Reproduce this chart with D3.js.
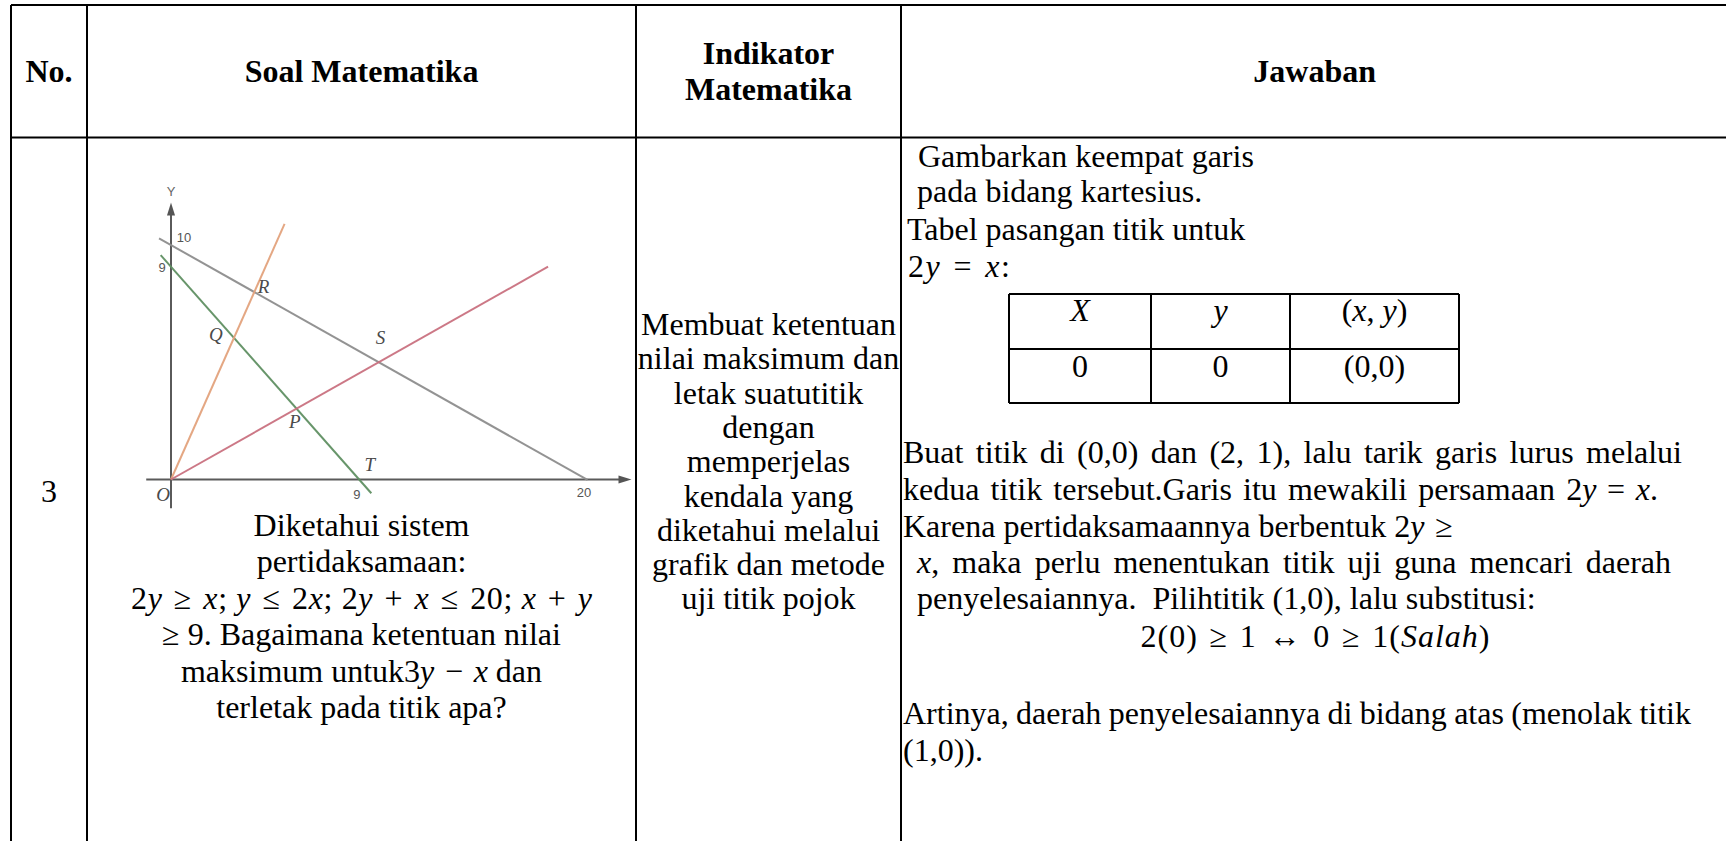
<!DOCTYPE html>
<html><head><meta charset="utf-8">
<script src="https://cdn.jsdelivr.net/npm/d3@7"></script>
<style>html,body{margin:0;padding:0;background:#fff;overflow:hidden}
text{white-space:pre}</style>
</head><body><svg id="c" width="1726" height="841"></svg>
<script>
// ---------- data ----------
const S = "\u2004"; // math operator spacing
const headers = ["No.", "Soal Matematika", "Indikator|Matematika", "Jawaban"];
const rowNumber = "3";
const soalLines = [
  "Diketahui sistem",
  "pertidaksamaan:",
  `2{y}${S}≥${S}{x}; {y}${S}≤${S}2{x}; 2{y}${S}+${S}{x}${S}≤${S}20; {x}${S}+${S}{y}`,
  "≥ 9. Bagaimana ketentuan nilai",
  `maksimum untuk3{y}${S}−${S}{x} dan`,
  "terletak pada titik apa?"
];
const indikatorLines = [
  "Membuat ketentuan", "nilai maksimum dan", "letak suatutitik", "dengan",
  "memperjelas", "kendala yang", "diketahui melalui", "grafik dan metode", "uji titik pojok"
];
const jawabanIntro = ["Gambarkan keempat garis", "pada bidang kartesius.", "Tabel pasangan titik untuk", `2{y}${S}=${S}{x}:`];
const pairHeader = ["{X}", "{y}", "({x},\u00A0{y})"];
const pairRow = ["0", "0", "(0,0)"];
const jawabanBody = [
  "Buat titik di (0,0) dan (2, 1), lalu tarik garis lurus melalui",
  `kedua titik tersebut.Garis itu mewakili persamaan 2{y}${S}=${S}{x}.`,
  `Karena pertidaksamaannya berbentuk 2{y}${S}≥`,
  "{x}, maka perlu menentukan titik uji guna mencari daerah",
  "penyelesaiannya.  Pilihtitik (1,0), lalu substitusi:",
  `2(0)${S}≥${S}1${S}↔${S}0${S}≥${S}1({Salah})`,
  "Artinya, daerah penyelesaiannya di bidang atas (menolak titik",
  "(1,0))."
];
// graph: line segments (data units)
const graphNames = ["2y + x = 20", "x + y = 9", "y = 2x", "2y = x"];
const graphStart = [[-0.58, 10.36], [-0.5, 9.64], [0, 0], [0, 0]];
const graphEnd = [[20.17, -0.02], [9.7, -0.59], [5.5, 10.98], [18.26, 9.14]];
const pointNames = ["R", "Q", "S", "P", "T", "O"];
const pointX = [4, 3, 10, 6, 9, 0];
const pointY = [8, 6, 5, 3, 0, 0];
const yTickValues = [10, 9];
const xTickValues = [9, 20];

// ---------- styles / layout ----------
const FONT = "'Liberation Serif','Times New Roman',serif";
const FS = 32;
const lineColors = ["#8d8d8d", "#5f8f62", "#e3a27c", "#c9717f"];
const svg = d3.select("#c");

function rich(t, str) {
  const parts = str.split(/(\{[^}]*\})/).filter(s => s.length);
  parts.forEach(p => {
    if (p[0] === "{") t.append("tspan").attr("font-style", "italic").text(p.slice(1, -1));
    else t.append("tspan").text(p);
  });
  return t;
}
function txt(x, y, str, opts = {}) {
  const t = svg.append("text").attr("x", x).attr("y", y)
    .attr("font-family", FONT).attr("font-size", opts.size || FS)
    .attr("font-weight", opts.bold ? "bold" : "normal")
    .attr("text-anchor", opts.anchor || "start").attr("fill", "#000");
  if (opts.len) t.attr("textLength", opts.len).attr("lengthAdjust", "spacing");
  return rich(t, str);
}
function justify(x0, x1, y, str) {
  const words = str.split(" ");
  const els = words.map(w => txt(0, y, w));
  const ws = els.map(e => e.node().getComputedTextLength());
  const total = ws.reduce((a, b) => a + b, 0);
  const gap = (x1 - x0 - total) / (words.length - 1);
  let cx = x0;
  els.forEach((e, i) => { e.attr("x", cx); cx += ws[i] + gap; });
}

// ---------- table grid ----------
const L = 11, C1 = 87, C2 = 636, C3 = 901, R = 1728, T = 5, H = 137.5, B = 841;
const grid = svg.append("g").attr("stroke", "#000").attr("stroke-width", 2);
[[L, T, R, T], [L, H, R, H], [L, T, L, B], [C1, T, C1, B], [C2, T, C2, B], [C3, T, C3, B]]
  .forEach(d => grid.append("line").attr("x1", d[0]).attr("y1", d[1]).attr("x2", d[2]).attr("y2", d[3]));

// headers
txt((L + C1) / 2, 82, headers[0], {bold: true, anchor: "middle"});
txt((C1 + C2) / 2, 82, headers[1], {bold: true, anchor: "middle"});
headers[2].split("|").forEach((h, i) => txt((C2 + C3) / 2, 64 + i * 35.6, h, {bold: true, anchor: "middle"}));
txt(1314.7, 82, headers[3], {bold: true, anchor: "middle"});

// No.
txt((L + C1) / 2, 502, rowNumber, {anchor: "middle"});

// ---------- graph ----------
const xS = d3.scaleLinear().domain([0, 20]).range([171, 584]);
const yS = d3.scaleLinear().domain([0, 10]).range([479.5, 246.7]);
svg.append("clipPath").attr("id", "gclip").append("rect")
  .attr("x", 140).attr("y", 180).attr("width", C2 - 1 - 140).attr("height", 335);
const g = svg.append("g").attr("clip-path", "url(#gclip)");
const ln = d3.line().x(d => xS(d[0])).y(d => yS(d[1]));
// axes
g.append("path").attr("d", ln([[-1.2, 0], [21.9, 0]])).attr("stroke", "#5a5a5a").attr("stroke-width", 2).attr("fill", "none");
g.append("path").attr("d", ln([[0, -1.24], [0, 11.5]])).attr("stroke", "#5a5a5a").attr("stroke-width", 2).attr("fill", "none");
const ax = xS(22.3), ay = yS(0);
g.append("path").attr("d", `M${ax},${ay} l-13,-4 l0,8 z`).attr("fill", "#555");
const tx = xS(0), ty = yS(11.9);
g.append("path").attr("d", `M${tx},${ty} l-4,13 l8,0 z`).attr("fill", "#555");
const sans = "'Liberation Sans',Arial,sans-serif";
g.append("text").attr("x", tx).attr("y", ty - 6).attr("text-anchor", "middle")
  .attr("font-family", sans).attr("font-size", 13).attr("fill", "#666").text("Y");
g.append("text").attr("x", ax + 8).attr("y", ay + 5).attr("text-anchor", "start")
  .attr("font-family", sans).attr("font-size", 13).attr("fill", "#666").text("X");
// lines
graphNames.forEach((n, i) => {
  g.append("path").attr("d", ln([graphStart[i], graphEnd[i]]))
    .attr("stroke", lineColors[i]).attr("stroke-width", 2).attr("fill", "none").attr("opacity", 0.95);
});
// tick labels
const yOff = [[13, -5], [-9, 2]];
yTickValues.forEach((v, i) => g.append("text").attr("x", xS(0) + yOff[i][0]).attr("y", yS(v) + yOff[i][1])
  .attr("text-anchor", "middle").attr("font-family", sans).attr("font-size", 13).attr("fill", "#555").text(v));
const xOff = [19, 17];
xTickValues.forEach((v, i) => g.append("text").attr("x", xS(v)).attr("y", yS(0) + xOff[i])
  .attr("text-anchor", "middle").attr("font-family", sans).attr("font-size", 13).attr("fill", "#555").text(v));
// point labels
const pOff = [[10, 0], [-17, 1], [3, -19], [0, 18], [13, -9], [-8, 21]];
pointNames.forEach((n, i) => g.append("text").attr("x", xS(pointX[i]) + pOff[i][0]).attr("y", yS(pointY[i]) + pOff[i][1])
  .attr("text-anchor", "middle").attr("font-family", FONT).attr("font-style", "italic")
  .attr("font-size", 19).attr("fill", "#4a4a4a").text(n));

// ---------- Soal text ----------
soalLines.forEach((s, i) => txt((C1 + C2) / 2, 536 + i * 36.4, s, {anchor: "middle", len: i === 2 ? 461 : null}));

// ---------- Indikator text ----------
indikatorLines.forEach((s, i) => txt((C2 + C3) / 2, 335 + i * 34.3, s, {anchor: "middle"}));

// ---------- Jawaban ----------
const introX = [918, 917, 907, 908], introY = [166.7, 201.7, 240, 277];
jawabanIntro.forEach((s, i) => txt(introX[i], introY[i], s, {len: i === 3 ? 102 : null}));

// pair table
const pc = [1009, 1151, 1290, 1459], pr = [294, 349, 403];
const pg = svg.append("g").attr("stroke", "#000").attr("stroke-width", 2);
pr.forEach(y => pg.append("line").attr("x1", pc[0]).attr("x2", pc[3]).attr("y1", y).attr("y2", y));
pc.forEach(x => pg.append("line").attr("x1", x).attr("x2", x).attr("y1", pr[0]).attr("y2", pr[2]));
pairHeader.forEach((s, i) => txt((pc[i] + pc[i + 1]) / 2, 321, s, {anchor: "middle"}));
pairRow.forEach((s, i) => txt((pc[i] + pc[i + 1]) / 2, 377, s, {anchor: "middle"}));

// body
const bodyY = [463.3, 499.9, 536.5, 573.1, 609.3, 646.5, 724.3, 760.5];
const bodyX = [903, 903, 903, 917, 917, null, 903, 903];
const bodyEnd = [1682, 1658, null, 1671, null, null, 1691, null];
jawabanBody.forEach((s, i) => {
  if (bodyX[i] === null) txt(1315, bodyY[i], s, {anchor: "middle", len: 349});
  else if (bodyEnd[i]) justify(bodyX[i], bodyEnd[i], bodyY[i], s);
  else txt(bodyX[i], bodyY[i], s);
});
</script></body></html>
